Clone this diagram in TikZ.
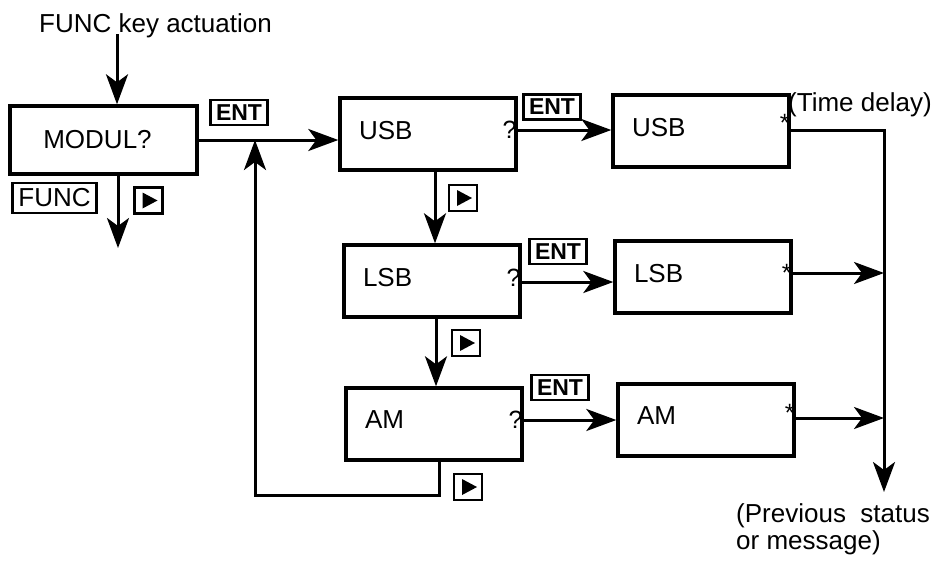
\documentclass[tikz,border=0pt]{standalone}
\usepackage{fontspec}
\setmainfont{Liberation Sans}
\usetikzlibrary{arrows.meta,calc}
\begin{document}
\begin{tikzpicture}[x=1pt,y=-1pt,
  txt/.style={font=\fontsize{26}{27}\selectfont, inner sep=0pt},
  box/.style={draw, line width=3.4pt, minimum width=176pt, minimum height=72pt,
    font=\fontsize{26}{27}\selectfont, text width=138pt, align=left, inner xsep=19pt,
    text depth=8pt},
  smallsym/.style={font=\fontsize{25}{25}\selectfont, inner sep=0pt},
  entkey/.style={draw, line width=2.6pt, minimum width=57pt, minimum height=25pt,
    inner sep=1pt, font=\bfseries\fontsize{23}{23}\selectfont},
  funckey/.style={draw, line width=2.6pt, minimum width=84pt, minimum height=30pt,
    inner sep=1pt, font=\fontsize{26}{26}\selectfont},
  playkey/.style={draw, line width=2.6pt, minimum width=28pt, minimum height=26pt,
    inner sep=0pt,
    path picture={\fill ($(path picture bounding box.center)+(-6,-8)$) -- ++(0,16) -- ++(15,-8) -- cycle;}},
  arr/.style={line width=3pt, -{Stealth[length=30pt,width=22pt,inset=8pt]}}
]
\useasboundingbox (0,0) rectangle (933,566);

% texts
\node[txt, anchor=base west] (title) at (39,32) {FUNC key actuation};
\node[txt, anchor=base west] (delay) at (788,111) {(Time delay)};
\node[txt, anchor=north west, align=left] (prev) at (736,503) {(Previous\ \ status\\or message)};

% boxes
\node[draw, line width=3.4pt, minimum width=187pt, minimum height=68pt,
  font=\fontsize{26}{27}\selectfont, inner xsep=0pt] (modul) at (103.5,140) {MODUL?\hspace*{12pt}};
\node[box] (usb1) at (428,134) {USB};
\node[box] (usb2) at (701,131) {USB};
\node[box] (lsb1) at (432,281) {LSB};
\node[box] (lsb2) at (703,277) {LSB};
\node[box] (am1) at (434,424) {AM};
\node[box] (am2) at (706,420) {AM};

% marks
\node[smallsym, anchor=east] (q1) at ([xshift=-1pt,yshift=4pt]usb1.east) {?};
\node[smallsym, anchor=east] (q2) at ([xshift=-1pt,yshift=3pt]lsb1.east) {?};
\node[smallsym, anchor=east] (q3) at ([xshift=-1pt,yshift=4pt]am1.east) {?};
\node[smallsym, anchor=east] (s1) at ([xshift=-1pt,yshift=8pt]usb2.east) {*};
\node[smallsym, anchor=east] (s2) at ([xshift=-1pt,yshift=4pt]lsb2.east) {*};
\node[smallsym, anchor=east] (s3) at ([xshift=-1pt,yshift=7pt]am2.east) {*};

% keys
\node[entkey] (ent1) at (239,112.5) {ENT};
\node[entkey] (ent2) at (552,107) {ENT};
\node[entkey] (ent3) at (558,251.5) {ENT};
\node[entkey] (ent4) at (560,387.5) {ENT};
\node[funckey] (func) at (54.5,198) {FUNC};
\node[playkey] (p1) at (148.5,200.5) {};
\node[playkey] (p2) at (463,198) {};
\node[playkey] (p3) at (466,343) {};
\node[playkey] (p4) at (468,487) {};

% coordinates
\coordinate (start) at (117,34);
\coordinate (modout) at (118,248);
\coordinate (j) at (255,140);
\coordinate (loopa) at (439,495);
\coordinate (loopb) at (255,495);
\coordinate (rx) at (884,130);
\coordinate (rend) at (884,492);

% connectors
\draw[arr] (start) -- (start |- modul.north);
\draw[arr] (modul.south -| modout) -- (modout);
\draw[arr] (modul.east |- j) -- (usb1.west |- j);
\draw[arr] (am1.south -| loopa) -- (loopa) -- (loopb) -- (j);
\draw[arr] (usb1.east |- 0,130) -- (usb2.west |- 0,130);
\draw[arr] (lsb1.east |- 0,282) -- (lsb2.west |- 0,282);
\draw[arr] (am1.east |- 0,420) -- (am2.west |- 0,420);
\draw[arr] (usb1.south -| 435,0) -- (lsb1.north -| 435,0);
\draw[arr] (lsb1.south -| 436,0) -- (am1.north -| 436,0);
\draw[arr] (usb2.east |- rx) -- (rx) -- (rend);
\draw[arr] (lsb2.east |- 0,273) -- (rx |- 0,273);
\draw[arr] (am2.east |- 0,418) -- (rx |- 0,418);
\end{tikzpicture}
\end{document}
